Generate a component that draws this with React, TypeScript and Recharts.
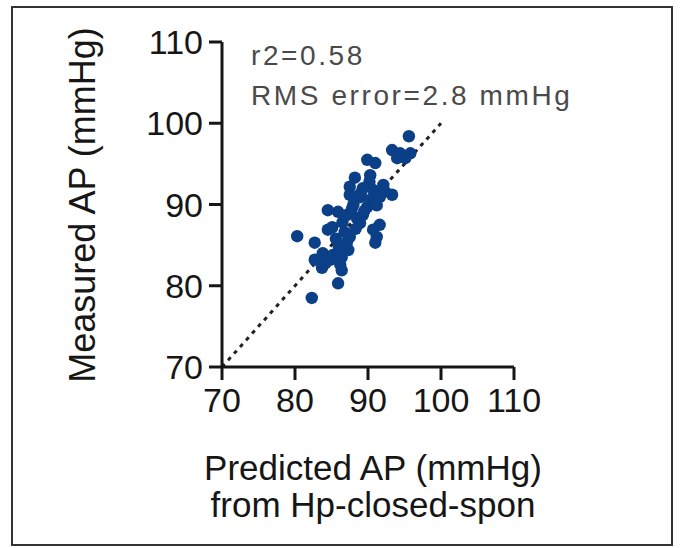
import React from 'react';
import {
  ScatterChart,
  Scatter,
  XAxis,
  YAxis,
  ReferenceLine
} from 'recharts';

// Predicted AP (x) vs measured AP (y), mmHg
const predicted = [
  95.6, 93.3, 94.4, 95.8, 95.1, 94.0, 89.9, 91.0, 90.3, 88.2,
  87.5, 89.3, 90.7, 92.1, 93.3, 87.5, 88.9, 90.3, 91.6, 89.9,
  91.2, 84.5, 85.9, 87.1, 88.5, 89.3, 85.1, 84.5, 88.9, 91.6,
  90.7, 91.2, 91.0, 80.3, 87.5, 87.1, 87.3, 82.7, 83.8, 85.2,
  86.4, 82.7, 83.7, 84.8, 86.2, 86.4, 85.9, 82.3, 88.0, 89.0,
  86.5, 87.8, 85.6, 86.0, 84.2, 88.3, 89.5, 92.3, 90.2, 86.8
];
const measured = [
  98.4, 96.7, 96.3, 96.3, 95.7, 95.7, 95.5, 95.1, 93.6, 93.3,
  92.2, 92.0, 91.8, 92.4, 91.2, 91.2, 90.9, 90.6, 90.9, 89.7,
  89.9, 89.3, 89.1, 88.7, 88.3, 88.7, 87.2, 86.9, 87.7, 87.5,
  86.9, 86.0, 85.3, 86.1, 86.0, 85.3, 84.4, 85.3, 84.0, 83.8,
  83.5, 83.2, 82.2, 83.2, 82.6, 81.9, 80.3, 78.5, 90.0, 91.4,
  87.8, 89.5, 85.8, 84.8, 82.8, 87.0, 89.2, 91.6, 92.8, 86.6
];
const axisTicks = [70, 80, 90, 100, 110];
const identityStart = 70;
const identityEnd = 100;
const statLines = ['r2=0.58', 'RMS error=2.8 mmHg'];
const xTitle = ['Predicted AP (mmHg)', 'from Hp-closed-spon'];
const yTitle = 'Measured AP (mmHg)';

const font = 'Arial, "Liberation Sans", sans-serif';
const ink = '#161616';
const dotColor = '#0b3f87';

const data = predicted.map((x, i) => ({ x, y: measured[i] }));

const Dot = (props: any) => {
  const { cx, cy } = props;
  return <circle cx={cx} cy={cy} r={6.2} fill={dotColor} />;
};

export default function App() {
  const axisStyle = { stroke: ink, strokeWidth: 3 };
  const tickStyle = { fill: ink, fontSize: 34, fontFamily: font };

  return (
    <div style={{ position: 'relative', width: 680, height: 548, background: '#fff' }}>
      <style>{`body { margin: 0; }`}</style>
      <ScatterChart
        width={680}
        height={548}
        margin={{ top: 42, right: 166, bottom: 121, left: 0 }}
      >
        <XAxis
          type="number"
          dataKey="x"
          domain={[70, 110]}
          ticks={axisTicks}
          height={60}
          stroke={ink}
          strokeWidth={3}
          axisLine={axisStyle}
          tickLine={axisStyle}
          tickSize={13}
          tickMargin={8}
          tick={tickStyle}
        />
        <YAxis
          type="number"
          dataKey="y"
          domain={[70, 110]}
          ticks={axisTicks}
          width={222}
          stroke={ink}
          strokeWidth={3}
          axisLine={axisStyle}
          tickLine={axisStyle}
          tickSize={13}
          tickMargin={6}
          tick={tickStyle}
        />
        <ReferenceLine
          segment={[
            { x: identityStart, y: identityStart },
            { x: identityEnd, y: identityEnd }
          ]}
          stroke="#222"
          strokeWidth={3}
          strokeDasharray="4 5"
        />
        <Scatter data={data} shape={Dot} isAnimationActive={false} />
      </ScatterChart>

      {/* titles, stats and frame drawn over the chart */}
      <svg
        width={680}
        height={548}
        style={{ position: 'absolute', left: 0, top: 0, pointerEvents: 'none' }}
      >
        <rect x={12} y={7} width={660} height={538} fill="none" stroke="#333" strokeWidth={2} />
        <text
          transform="translate(95,205) rotate(-90)"
          textAnchor="middle"
          fontSize={36}
          fontFamily={font}
          fill={ink}
        >
          {yTitle}
        </text>
        {xTitle.map((line, i) => (
          <text
            key={line}
            x={373}
            y={480 + i * 37}
            textAnchor="middle"
            fontSize={35}
            fontFamily={font}
            fill={ink}
          >
            {line}
          </text>
        ))}
        {statLines.map((line, i) => (
          <text
            key={line}
            x={251}
            y={65 + i * 40}
            fontSize={28}
            fontFamily={font}
            letterSpacing={2.6}
            fill="#4a4a4a"
          >
            {line}
          </text>
        ))}
      </svg>
    </div>
  );
}
